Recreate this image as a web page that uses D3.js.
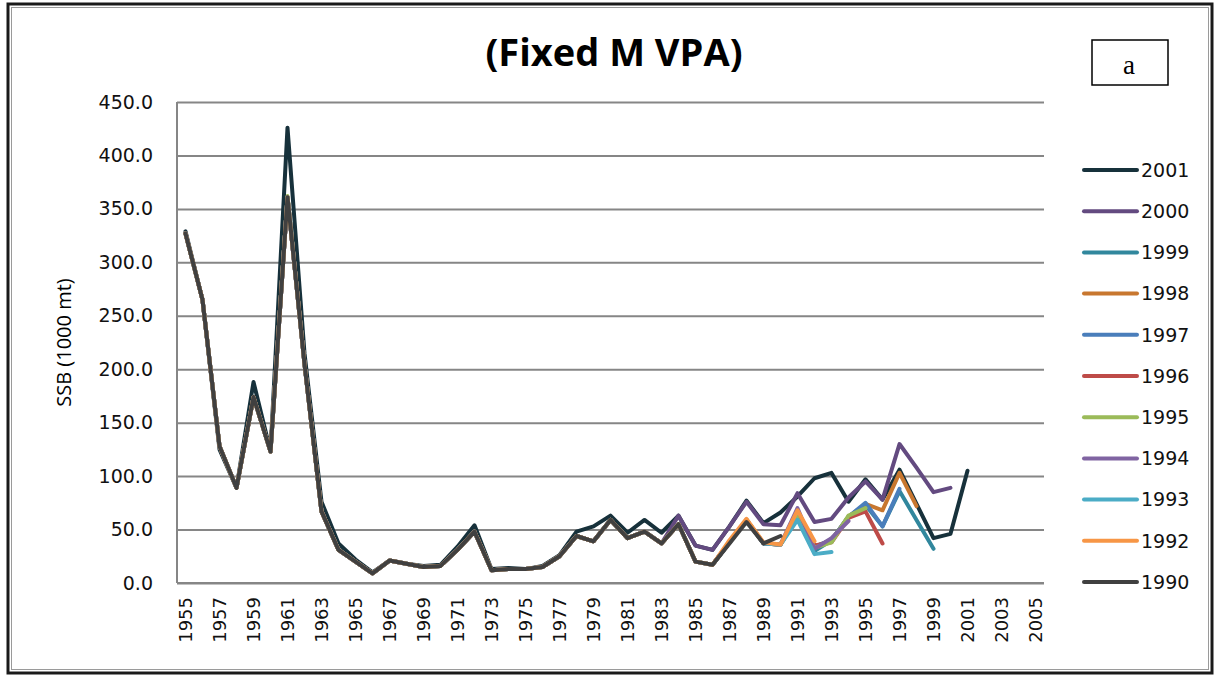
<!DOCTYPE html>
<html>
<head>
<meta charset="utf-8">
<script src="https://cdnjs.cloudflare.com/ajax/libs/d3/7.8.5/d3.min.js"></script>
<style>
  html, body { margin: 0; padding: 0; background: #fff; }
  svg { display: block; }
</style>
</head>
<body>
<svg id="chart" width="1217" height="677"></svg>
<script>
// ---------- DATA ----------
const categories = d3.range(1955, 2006).map(String); // 1955..2005
const tickLabels = ["1955","1957","1959","1961","1963","1965","1967","1969","1971","1973","1975","1977","1979","1981","1983","1985","1987","1989","1991","1993","1995","1997","1999","2001","2003","2005"];
const yTicks = [0, 50, 100, 150, 200, 250, 300, 350, 400, 450];

const seriesNames = ["2001","2000","1999","1998","1997","1996","1995","1994","1993","1992","1990"];
const seriesColors = ["#17313b","#634a80","#31879d","#c8772f","#4a7ebb","#be4b48","#9bbb59","#8064a2","#4bacc6","#f79646","#404040"];

// values start at 1955
const ssb2001 = [329,265,125,89,188,123,426,215,76,37,22,10,21,18,16,17,34,54,13,14,13,16,26,48,53,63,47,59,47,63,35,31,53,77,56,66,81,98,103,76,97,78,106,74,42,46,105];
const ssb2000 = [327,265,128,89,174,123,361,205,67,31,20,9,21,18,15,16,31,48,12,13,13,15,25,44,39,59,42,48,37,63,35,31,53,76,55,54,84,57,60,80,95,78,130,108,85,89];
const ssb1999 = [327,265,128,89,174,123,361,205,67,31,20,9,21,18,15,16,31,48,12,13,13,15,25,44,39,59,42,48,37,55,20,17,38,59,37,36,63,30,40,62,73,53,86,59,32];
const ssb1998 = [327,265,128,89,174,123,361,205,67,31,20,9,21,18,15,16,31,48,12,13,13,15,25,44,39,59,42,48,37,55,20,17,38,59,37,36,63,34,40,62,74,68,103,72];
const ssb1997 = [327,265,128,89,174,123,361,205,67,31,20,9,21,18,15,16,31,48,12,13,13,15,25,44,39,59,42,48,37,55,20,17,38,59,37,36,63,34,40,62,75,53,88];
const ssb1996 = [327,265,128,89,174,123,361,205,67,31,20,9,21,18,15,16,31,48,12,13,13,15,25,44,39,59,42,48,37,55,20,17,38,59,37,36,63,35,38,61,67,37];
const ssb1995 = [327,265,128,89,174,123,362,205,67,31,20,9,21,18,15,16,31,48,12,13,13,15,25,44,39,59,42,48,37,55,20,17,38,59,37,36,63,33,38,63,70];
const ssb1994 = [327,265,128,89,174,123,361,205,67,31,20,9,21,18,15,16,31,48,12,13,13,15,25,44,39,59,42,48,37,55,20,17,38,59,37,36,70,32,42,58];
const ssb1993 = [327,265,128,89,174,123,361,205,67,31,20,9,21,18,15,16,31,48,12,13,13,15,25,44,39,59,42,48,37,55,20,17,38,59,37,36,59,27,29];
const ssb1992 = [327,265,128,89,174,123,361,205,67,31,20,9,21,18,15,16,31,48,12,13,13,15,25,44,39,59,42,48,37,55,20,17,40,60,38,36,68,39];
const ssb1990 = [327,265,128,89,174,123,361,205,67,31,20,9,21,18,15,16,31,48,12,13,13,15,25,44,39,59,42,48,37,55,20,17,37,57,37,44];

const seriesValues = [ssb2001, ssb2000, ssb1999, ssb1998, ssb1997, ssb1996, ssb1995, ssb1994, ssb1993, ssb1992, ssb1990];

// ---------- LAYOUT ----------
const svg = d3.select("#chart");
const plot = { left: 177, right: 1044, top: 102, bottom: 583 };

// outer frame
svg.append("rect").attr("x", 8).attr("y", 4).attr("width", 1204).attr("height", 669)
  .attr("fill", "none").attr("stroke", "#1a1a1a").attr("stroke-width", 3);
svg.append("rect").attr("x", 11.5).attr("y", 7.5).attr("width", 1197).attr("height", 662)
  .attr("fill", "none").attr("stroke", "#9a9a9a").attr("stroke-width", 1);

const x = d3.scaleBand().domain(categories).range([plot.left, plot.right]).padding(0);
const y = d3.scaleLinear().domain([0, 450]).range([plot.bottom, plot.top]);

// gridlines + y labels
const yAxis = d3.axisLeft(y).tickValues(yTicks).tickFormat(d3.format(".1f"))
  .tickSize(-(plot.right - plot.left)).tickPadding(24);
const gy = svg.append("g").attr("transform", `translate(${plot.left},0)`).call(yAxis);
gy.select(".domain").remove();
gy.selectAll(".tick line").attr("stroke", "#868686").attr("stroke-width", 2);
gy.selectAll(".tick text").attr("fill", "#111").style("font-family", "DejaVu Sans").style("font-size", "19px");

// axis lines
svg.append("line").attr("x1", plot.left).attr("x2", plot.left).attr("y1", plot.top).attr("y2", plot.bottom)
  .attr("stroke", "#868686").attr("stroke-width", 2);
svg.append("line").attr("x1", plot.left).attr("x2", plot.right).attr("y1", plot.bottom).attr("y2", plot.bottom)
  .attr("stroke", "#868686").attr("stroke-width", 2);

// x labels
const xAxis = d3.axisBottom(x).tickValues(tickLabels).tickSize(0);
const gx = svg.append("g").attr("transform", `translate(0,${plot.bottom})`).call(xAxis);
gx.select(".domain").remove();
gx.selectAll(".tick text")
  .attr("transform", "translate(0,14) rotate(-90)")
  .attr("text-anchor", "end").attr("dx", 0).attr("dy", "0.35em").attr("x", 0).attr("y", 0)
  .attr("fill", "#111").style("font-family", "DejaVu Sans").style("font-size", "18px");

// lines
const line = d3.line()
  .x((d, i) => x(categories[i]) + x.bandwidth() / 2)
  .y(d => y(d));

svg.append("g").selectAll("path").data(seriesValues).join("path")
  .attr("d", d => line(d))
  .attr("fill", "none")
  .attr("stroke", (d, i) => seriesColors[i])
  .attr("stroke-width", 4)
  .attr("stroke-linejoin", "round")
  .attr("stroke-linecap", "round");

// title
svg.append("text").attr("x", 614).attr("y", 66).attr("text-anchor", "middle")
  .style("font-family", "Open Sans").style("font-weight", "bold").style("font-size", "38px")
  .attr("fill", "#000").text("(Fixed M VPA)");

// y title
svg.append("text").attr("transform", `translate(71,${(plot.top + plot.bottom) / 2}) rotate(-90)`)
  .attr("text-anchor", "middle")
  .style("font-family", "Open Sans").style("font-size", "20px").attr("fill", "#000")
  .text("SSB (1000 mt)");

// panel box "a"
svg.append("rect").attr("x", 1092).attr("y", 40).attr("width", 76).attr("height", 45)
  .attr("fill", "#fff").attr("stroke", "#000").attr("stroke-width", 1.5);
svg.append("text").attr("x", 1129).attr("y", 74).attr("text-anchor", "middle")
  .style("font-family", "Liberation Serif").style("font-size", "27px").attr("fill", "#000").text("a");

// legend
const leg = svg.append("g").selectAll("g").data(seriesNames).join("g")
  .attr("transform", (d, i) => `translate(0,${170 + i * 41.2})`);
leg.append("line").attr("x1", 1084).attr("x2", 1137).attr("y1", 0).attr("y2", 0)
  .attr("stroke", (d, i) => seriesColors[i]).attr("stroke-width", 4).attr("stroke-linecap", "round");
leg.append("text").attr("x", 1141).attr("y", 0).attr("dy", "0.36em")
  .style("font-family", "DejaVu Sans").style("font-size", "19px").attr("fill", "#111").text(d => d);
</script>
</body>
</html>
